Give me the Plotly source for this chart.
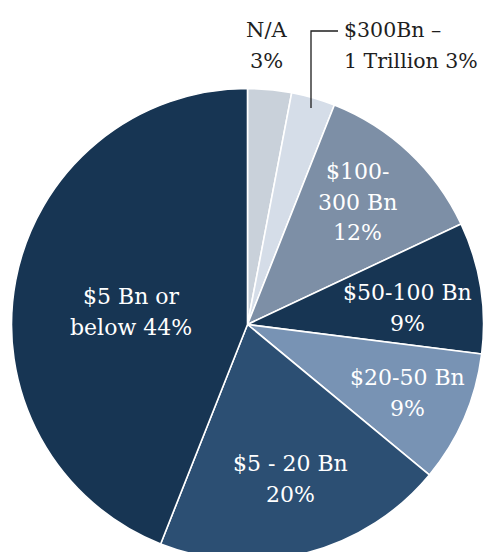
import plotly.graph_objects as go

# Share of companies by market capitalisation band (clockwise from 12 o'clock)
bands = ["N/A", "$300Bn – 1 Trillion", "$100-300 Bn", "$50-100 Bn",
         "$20-50 Bn", "$5 - 20 Bn", "$5 Bn or below"]
shares = [3, 3, 12, 9, 9, 20, 44]
colors = ["#c9d1da", "#d5dde8", "#7d8fa6", "#173553",
          "#7893b4", "#2c4f73", "#173553"]

# Label lines per slice; the share is appended to the last line
label_lines = [
    ["N/A", "{}%"],
    ["$300Bn –", "1 Trillion {}%"],
    ["$100-", "300 Bn", "{}%"],
    ["$50-100 Bn", "{}%"],
    ["$20-50 Bn", "{}%"],
    ["$5 - 20 Bn", "{}%"],
    ["$5 Bn or", "below {}%"],
]
# label anchor (pixel x, pixel y of block centre), text colour, alignment, size
label_pos = [
    (266, 45, "#1e1e1e", "center", 21),
    (342, 45, "#1e1e1e", "left", 20.5),
    (357, 202, "white", "center", 22),
    (407, 308, "white", "center", 22),
    (407, 393, "white", "center", 22),
    (290, 479, "white", "center", 22),
    (131, 312, "white", "center", 22),
]

W, H = 485, 561
FONT = "DejaVu Serif"
LINE_GAP = 31


def px(x):
    return x / W


def py(y):
    return 1 - y / H


fig = go.Figure(go.Pie(
    labels=bands,
    values=shares,
    sort=False,
    direction="clockwise",
    rotation=0,
    marker=dict(colors=colors, line=dict(color="white", width=1.6)),
    textinfo="none",
    hoverinfo="label+percent",
    showlegend=False,
    domain=dict(x=[px(11.5), px(483.5)], y=[py(560.5), py(88.5)]),
))

for lines, v, (x, y, c, al, fs) in zip(label_lines, shares, label_pos):
    rows = lines[:-1] + [lines[-1].format(v)]
    top = y - LINE_GAP * (len(rows) - 1) / 2
    for i, row in enumerate(rows):
        fig.add_annotation(
            x=px(x), y=py(top + i * LINE_GAP), xref="paper", yref="paper",
            text=row, showarrow=False,
            xanchor="left" if al == "left" else "center", yanchor="middle",
            font=dict(family=FONT, size=fs, color=c),
        )

# leader line for the small "$300Bn – 1 Trillion" slice
fig.add_shape(
    type="path", xref="paper", yref="paper",
    path=f"M {px(311)} {py(108)} L {px(311)} {py(31)} L {px(338)} {py(31)}",
    line=dict(color="#1e1e1e", width=1.3),
)

fig.update_layout(
    width=W, height=H,
    margin=dict(l=0, r=0, t=0, b=0),
    paper_bgcolor="white",
    plot_bgcolor="white",
)

fig.write_html("out.html")
